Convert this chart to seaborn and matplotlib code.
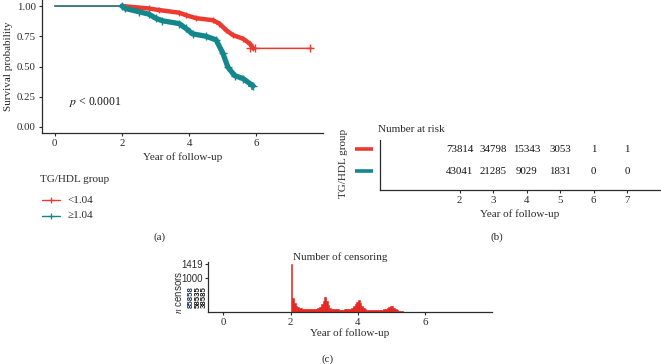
import numpy as np
import pandas as pd
import matplotlib
matplotlib.use("Agg")
import matplotlib.pyplot as plt
from matplotlib.lines import Line2D
import seaborn as sns

# survival curves
low_time = [0, 2.0, 2.8, 3.1, 3.7, 3.9, 4.2, 4.7, 4.9, 5.1, 5.3, 5.6, 5.8, 5.9, 7.65]
low_surv = [1.0, 1.0, 0.98, 0.967, 0.945, 0.925, 0.90, 0.883, 0.855, 0.80, 0.76, 0.73, 0.69, 0.65, 0.65]
high_time = [0, 2.0, 2.1, 2.5, 2.8, 3.0, 3.2, 3.7, 3.9, 4.1, 4.5, 4.8, 5.0, 5.15, 5.35, 5.6, 5.9]
high_surv = [1.0, 1.0, 0.98, 0.953, 0.933, 0.90, 0.878, 0.855, 0.815, 0.77, 0.75, 0.72, 0.61, 0.495,
             0.425, 0.40, 0.34]
low_cens_time = [5.82, 5.95, 7.6]
low_cens_surv = [0.65, 0.65, 0.65]
high_cens_time = [5.86]
high_cens_surv = [0.34]

# number at risk, panel (b)
risk_times = [2, 3, 4, 5, 6, 7]
risk_low = [73814, 34798, 15343, 3053, 1, 1]
risk_high = [43041, 21285, 9029, 1831, 0, 0]

# censoring counts, panel (c): bins of 0.05 years starting at 2.00
cens_bin_start = 2.0
cens_bin_width = 0.05
cens_counts = [1419, 420, 260, 190, 150, 120, 105, 95, 90, 85,
               80, 80, 78, 80, 85, 95, 110, 150, 230, 330,
               440, 330, 200, 125, 95, 85, 80, 75, 75, 72,
               70, 72, 75, 80, 85, 100, 125, 170, 230, 300,
               345, 260, 165, 110, 85, 70, 65, 60, 60, 58,
               55, 55, 58, 60, 65, 75, 90, 115, 150, 175,
               190, 130, 75, 50, 35, 25, 18, 14, 12, 10,
               9, 8, 8, 7, 7, 6, 6, 5, 4, 3]

groups = ["<1.04", "\u22651.04"]
RED = "#EC3A30"
TEAL = "#14878C"
DARK = "#2b2b2b"

sns.set_theme(style="white")
plt.rcParams["font.family"] = ["Liberation Serif", "DejaVu Serif"]
plt.rcParams["mathtext.fontset"] = "stix"

W, H = 661, 364
fig = plt.figure(figsize=(W / 100, H / 100), dpi=100)


def box(left, top, right, bottom):
    return [left / W, 1 - bottom / H, (right - left) / W, (bottom - top) / H]


def style_axis(ax):
    for s in ["top", "right"]:
        ax.spines[s].set_visible(False)
    for s in ["left", "bottom"]:
        ax.spines[s].set_color(DARK)
        ax.spines[s].set_linewidth(0.9)
    ax.tick_params(axis="both", length=2.5, width=0.8, color=DARK, labelsize=7.8,
                   labelcolor=DARK, pad=2, bottom=True, left=True)


# ---- panel (a) ----
ax_a = fig.add_axes(box(42, 0, 323, 133))
style_axis(ax_a)

lt = np.array(low_time)
ls = np.array(low_surv)
ht = np.array(high_time)
hs = np.array(high_surv)

sns.lineplot(x=lt, y=ls, color=RED, lw=1.1, estimator=None, sort=False, ax=ax_a)
m = (lt >= 2) & (lt <= 5.9)
sns.lineplot(x=lt[m], y=ls[m], color=RED, lw=3.2, estimator=None, sort=False, ax=ax_a)
sns.scatterplot(x=lt[m], y=ls[m], color=RED, marker="+", s=25, linewidth=1.0, ax=ax_a)
sns.scatterplot(x=low_cens_time, y=low_cens_surv, color=RED, marker="+", s=30, linewidth=1.0, ax=ax_a)

sns.lineplot(x=ht, y=hs, color=TEAL, lw=1.1, estimator=None, sort=False, ax=ax_a)
m = ht >= 2
sns.lineplot(x=ht[m], y=hs[m], color=TEAL, lw=3.8, estimator=None, sort=False, ax=ax_a)
sns.scatterplot(x=ht[m], y=hs[m], color=TEAL, marker="+", s=30, linewidth=1.0, ax=ax_a)
sns.scatterplot(x=high_cens_time, y=high_cens_surv, color=TEAL, marker="+", s=40, linewidth=1.2, ax=ax_a)

ax_a.set_xlim(-0.38, 7.98)
ax_a.set_ylim(-0.05, 1.05)
ax_a.set_xticks([0, 2, 4, 6])
ax_a.set_yticks([0, 0.25, 0.5, 0.75, 1.0])
ax_a.set_yticklabels(["0.00", "0.25", "0.50", "0.75", "1.00"])
ax_a.set_xlabel("Year of follow-up", fontsize=8, color=DARK, labelpad=3)
ax_a.set_ylabel("Survival probability", fontsize=8, color=DARK, labelpad=3)
ax_a.text(0.42, 0.207, "$p$ < 0.0001", fontsize=8.4, color="#111111", va="center", ha="left")

# legend of (a)
fig.text(40 / W, 1 - 179 / H, "TG/HDL group", fontsize=8, color=DARK, va="center", ha="left")
for yy, col, lab in [(200, RED, groups[0]), (216, TEAL, groups[1])]:
    fig.add_artist(Line2D([42 / W, 60 / W], [1 - yy / H, 1 - yy / H], color=col, lw=1.0))
    fig.add_artist(Line2D([51 / W], [1 - yy / H], color=col, marker="+", ms=4.5, mew=0.9))
    fig.text(68 / W, 1 - yy / H, lab, fontsize=8, color=DARK, va="center", ha="left")

fig.text(160 / W, 1 - 237 / H, "(a)", fontsize=8, color=DARK, ha="center", va="center")

# ---- panel (b) ----
ax_b = fig.add_axes(box(380, 140, 660, 190))
style_axis(ax_b)
ax_b.set_xlim(-0.38, 7.98)
ax_b.set_ylim(0.14, 2.41)
ax_b.set_xticks(risk_times)
ax_b.set_yticks([])
for t, a, b in zip(risk_times, risk_low, risk_high):
    ax_b.text(t, 2, str(a), fontsize=7.8, color="#111111", ha="center", va="center")
    ax_b.text(t, 1, str(b), fontsize=7.8, color="#111111", ha="center", va="center")
ax_b.plot([-1.13, -0.6], [2, 2], color=RED, lw=2.6, clip_on=False, solid_capstyle="butt")
ax_b.plot([-1.13, -0.6], [1, 1], color=TEAL, lw=2.6, clip_on=False, solid_capstyle="butt")
ax_b.set_xlabel("Year of follow-up", fontsize=8, color=DARK, labelpad=3)
fig.text(378 / W, 1 - 129 / H, "Number at risk", fontsize=8, color=DARK, ha="left", va="center")
fig.text(343 / W, 1 - 163 / H, "TG/HDL group", fontsize=8, color=DARK, rotation=90,
         ha="center", va="center")
fig.text(497 / W, 1 - 237 / H, "(b)", fontsize=8, color=DARK, ha="center", va="center")

# ---- panel (c) ----
ax_c = fig.add_axes(box(208, 262, 492, 312))
style_axis(ax_c)
n_bins = len(cens_counts)
cens_df = pd.DataFrame({
    "year": cens_bin_start + cens_bin_width * (np.arange(n_bins) + 0.5),
    "n": cens_counts,
})
edges = list(cens_bin_start + cens_bin_width * np.arange(n_bins + 1))
sns.histplot(data=cens_df, x="year", weights="n", bins=edges, color="#E8231C",
             alpha=1.0, linewidth=0.4, edgecolor="#E8231C", ax=ax_c)
ax_c.set_xlim(-0.45, 7.98)
ax_c.set_ylim(0, 1480)
ax_c.set_xticks([0, 2, 4, 6])
ax_c.set_yticks([1000, 1419])
ax_c.set_yticklabels(["1000", "1419"], family=["Liberation Sans", "DejaVu Sans"], fontsize=7)
ax_c.tick_params(axis="y", pad=1)
ax_c.set_ylabel("")
ax_c.set_xlabel("Year of follow-up", fontsize=8, color=DARK, labelpad=1)
fig.text(178 / W, 1 - 292 / H, "$\\mathit{n}$ censors", fontsize=7, color=DARK, rotation=90,
         ha="center", va="center", family=["Liberation Sans", "DejaVu Sans"])
fig.text(340 / W, 1 - 257 / H, "Number of censoring", fontsize=8, color=DARK, ha="center",
         va="center")
fig.text(328 / W, 1 - 359 / H, "(c)", fontsize=8, color=DARK, ha="center", va="center")

# crowded tick labels at the low end of the censor axis
garble = [("85858", 191.5, "#1c2f55"), ("58535", 198, "#141414"), ("38585", 204.5, "#1a1a1a")]
for txt, gx, gc in garble:
    fig.text(gx / W, 1 - 297 / H, txt, fontsize=5.6, color=gc, rotation=90, ha="center",
             va="center", family=["Liberation Sans", "DejaVu Sans"], fontweight="bold")

fig.savefig("out.png", dpi=100)
